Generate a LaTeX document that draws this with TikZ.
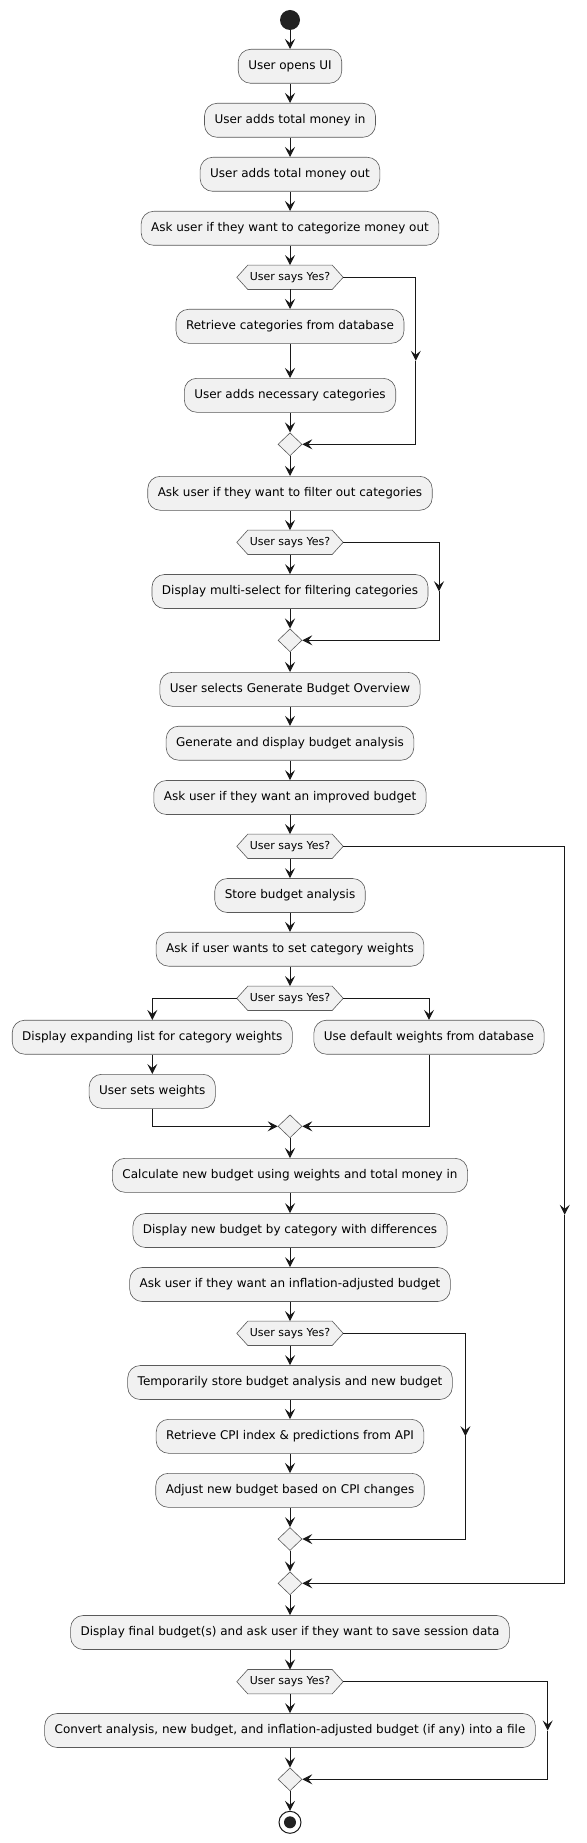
\documentclass[tikz,border=0pt]{standalone}
\usepackage{fontspec}
\setmainfont{DejaVu Sans}
\usetikzlibrary{arrows.meta,shapes.geometric}
\pgfdeclarelayer{bg}
\pgfsetlayers{bg,main}
\definecolor{boxfill}{HTML}{F1F1F1}
\definecolor{lineclr}{HTML}{181818}
\definecolor{boxline}{HTML}{5A5A5A}
\definecolor{dotclr}{HTML}{222222}
\tikzset{
  act/.style={draw=boxline, line width=0.6pt, fill=boxfill, rounded corners=12.5pt,
    minimum height=34pt, inner xsep=10pt, inner ysep=0pt, font=\fontsize{12}{14}\selectfont, text=black},
  hexlabel/.style={minimum width=106pt, minimum height=24pt, inner sep=0pt, font=\fontsize{11}{13}\selectfont},
  hexline/.style={draw=boxline, line width=0.6pt, fill=boxfill},
  merge/.style={diamond, draw=boxline, line width=0.6pt, fill=boxfill, minimum width=24pt, minimum height=23pt, inner sep=0pt},
  conn/.style={draw=lineclr, line width=1pt, -{Stealth[length=10pt,width=10pt,inset=4pt]}},
}
\newcommand\hexdec[3]{%
  \node[hexlabel] (#1) at (#2) {#3};
  \begin{pgfonlayer}{bg}
  \draw[hexline] (#1.west) -- ([xshift=11pt]#1.north west) -- ([xshift=-11pt]#1.north east) -- (#1.east)
    -- ([xshift=-11pt]#1.south east) -- ([xshift=11pt]#1.south west) -- cycle;
  \end{pgfonlayer}}
\begin{document}
\begin{tikzpicture}[x=1pt,y=-1pt]
\useasboundingbox (0,0) rectangle (586,1843);
\node[circle, fill=dotclr, minimum size=20pt, inner sep=0pt] (start) at (290,20) {};
\node[act] (b1) at (290,66.3) {User opens UI};
\node[act] (b2) at (290,120.3) {User adds total money in};
\node[act] (b3) at (290,174.3) {User adds total money out};
\node[act] (b4) at (290,228.3) {Ask user if they want to categorize money out};
\hexdec{h1}{290,277.3}{User says Yes?}
\node[act] (r1) at (290,326.3) {Retrieve categories from database};
\node[act] (r2) at (290,395.3) {User adds necessary categories};
\node[merge] (m1) at (290,444.3) {};
\node[act] (b5) at (290,493.3) {Ask user if they want to filter out categories};
\hexdec{h2}{290,542.3}{User says Yes?}
\node[act] (b6) at (290,591.5) {Display multi-select for filtering categories};
\node[merge] (m2) at (290,640.3) {};
\node[act] (b7) at (290,689.3) {User selects Generate Budget Overview};
\node[act] (b8) at (290,743.2) {Generate and display budget analysis};
\node[act] (b9) at (290,797.5) {Ask user if they want an improved budget};
\hexdec{h3}{290,846.3}{User says Yes?}
\node[act] (b10) at (290,895.5) {Store budget analysis};
\node[act] (b11) at (290,949.2) {Ask if user wants to set category weights};
\hexdec{h4}{290,998.3}{User says Yes?}
\node[act] (d1) at (152.3,1037.2) {Display expanding list for category weights};
\node[act] (d2) at (429,1037.2) {Use default weights from database};
\node[act] (w1) at (152.3,1091.3) {User sets weights};
\node[merge] (m3) at (290,1126.3) {};
\node[act] (b12) at (290,1175.3) {Calculate new budget using weights and total money in};
\node[act] (b13) at (290,1230.5) {Display new budget by category with differences};
\node[act] (b14) at (290,1284.5) {Ask user if they want an inflation-adjusted budget};
\hexdec{h5}{290,1333.3}{User says Yes?}
\node[act] (b15) at (290,1382.5) {Temporarily store budget analysis and new budget};
\node[act] (b16) at (290,1436.3) {Retrieve CPI index \& predictions from API};
\node[act] (b17) at (290,1490.3) {Adjust new budget based on CPI changes};
\node[merge] (m4) at (290,1539) {};
\node[merge] (m5) at (290,1583.3) {};
\node[act] (b18) at (290,1632.5) {Display final budget(s) and ask user if they want to save session data};
\hexdec{h6}{290,1681.7}{User says Yes?}
\node[act] (b19) at (290,1730.5) {Convert analysis, new budget, and inflation-adjusted budget (if any) into a file};
\node[merge] (m6) at (290,1779.3) {};
\node[circle, draw=lineclr, line width=1pt, fill=white, minimum size=22pt, inner sep=0pt] (stop) at (290,1822.3) {};
\node[circle, fill=dotclr, minimum size=12pt, inner sep=0pt] (stopin) at (stop) {};

\coordinate (c1m) at (415.8,360.8);
\coordinate (c2m) at (439,591.3);
\coordinate (c3m) at (564.7,1214.8);
\coordinate (c5m) at (465.4,1436.2);
\coordinate (c6m) at (547.7,1730.5);

\draw[conn] (start) -- (b1);
\draw[conn] (b1) -- (b2);
\draw[conn] (b2) -- (b3);
\draw[conn] (b3) -- (b4);
\draw[conn] (b4) -- (h1);
\draw[conn] (h1) -- (r1);
\draw[conn] (r1) -- (r2);
\draw[conn] (r2) -- (m1);
\draw[conn] (h1.east) -| (c1m);
\draw[conn] (c1m) |- (m1.east);
\draw[conn] (m1) -- (b5);
\draw[conn] (b5) -- (h2);
\draw[conn] (h2) -- (b6);
\draw[conn] (b6) -- (m2);
\draw[conn] (h2.east) -| (c2m);
\draw[conn] (c2m) |- (m2.east);
\draw[conn] (m2) -- (b7);
\draw[conn] (b7) -- (b8);
\draw[conn] (b8) -- (b9);
\draw[conn] (b9) -- (h3);
\draw[conn] (h3) -- (b10);
\draw[conn] (b10) -- (b11);
\draw[conn] (b11) -- (h4);
\draw[conn] (h4.west) -| (d1.north);
\draw[conn] (h4.east) -| (d2.north);
\draw[conn] (d1) -- (w1);
\draw[conn] (w1.south) |- (m3.west);
\draw[conn] (d2.south) |- (m3.east);
\draw[conn] (m3) -- (b12);
\draw[conn] (b12) -- (b13);
\draw[conn] (b13) -- (b14);
\draw[conn] (b14) -- (h5);
\draw[conn] (h5) -- (b15);
\draw[conn] (b15) -- (b16);
\draw[conn] (b16) -- (b17);
\draw[conn] (b17) -- (m4);
\draw[conn] (h5.east) -| (c5m);
\draw[conn] (c5m) |- (m4.east);
\draw[conn] (m4) -- (m5);
\draw[conn] (h3.east) -| (c3m);
\draw[conn] (c3m) |- (m5.east);
\draw[conn] (m5) -- (b18);
\draw[conn] (b18) -- (h6);
\draw[conn] (h6) -- (b19);
\draw[conn] (b19) -- (m6);
\draw[conn] (h6.east) -| (c6m);
\draw[conn] (c6m) |- (m6.east);
\draw[conn] (m6) -- (stop);
\end{tikzpicture}
\end{document}
